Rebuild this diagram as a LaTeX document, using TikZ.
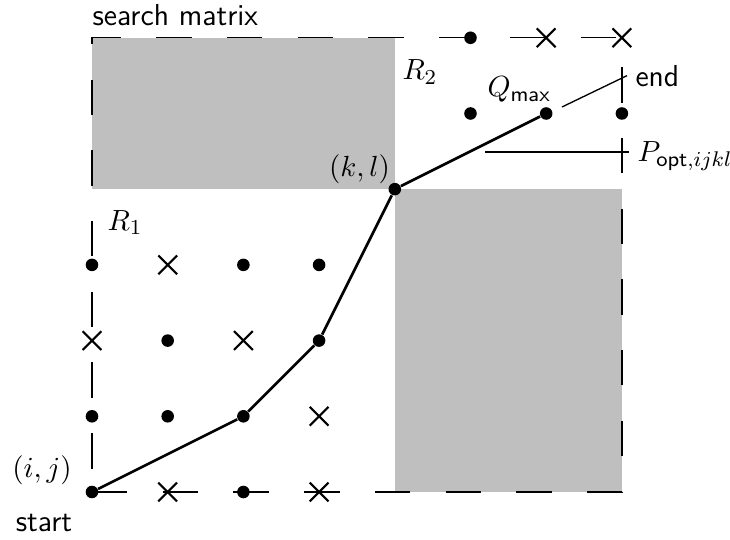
\documentclass[tikz,border=0pt]{standalone}
\usepackage{amssymb}
\usepackage{amsmath}
\usepackage{tikz}
\usepackage{xcolor}
\usetikzlibrary{shapes.misc, positioning}

\begin{document}
\begin{tikzpicture}[x=1cm,y=1cm,font=\fontsize{11.4}{13.7}\selectfont,
  dotp/.style={circle,fill,inner sep=0pt,minimum size=0.166cm},
  crossp/.style={cross out,draw,line width=0.8pt,inner sep=0pt,minimum size=0.22cm},
  lbl/.style={inner sep=0pt,anchor=base west}]
\useasboundingbox (-1.215,-0.621) rectangle (8.428,6.499);

% blocked regions
\fill[gray!50] (0,4) rectangle (4,6);
\fill[gray!50] (4,0) rectangle (7,4);
\draw[line width=0.5pt,dash pattern=on 13.29pt off 13.29pt] (0,0) -- (7,0) -- (7,6) -- (0,6) -- cycle;

% grid points
\node[dotp] (a00) at (0,0) {};
\node[crossp] (a10) at (1,0) {};
\node[dotp] (a20) at (2,0) {};
\node[crossp] (a30) at (3,0) {};
\node[dotp] (a01) at (0,1) {};
\node[dotp] (a11) at (1,1) {};
\node[dotp] (a21) at (2,1) {};
\node[crossp] (a31) at (3,1) {};
\node[crossp] (a02) at (0,2) {};
\node[dotp] (a12) at (1,2) {};
\node[crossp] (a22) at (2,2) {};
\node[dotp] (a32) at (3,2) {};
\node[dotp] (a03) at (0,3) {};
\node[crossp] (a13) at (1,3) {};
\node[dotp] (a23) at (2,3) {};
\node[dotp] (a33) at (3,3) {};
\node[dotp] (a44) at (4,4) {};
\node[dotp] (a55) at (5,5) {};
\node[dotp] (a65) at (6,5) {};
\node[dotp] (a75) at (7,5) {};
\node[dotp] (a56) at (5,6) {};
\node[crossp] (a66) at (6,6) {};
\node[crossp] (a76) at (7,6) {};

% optimal path
\draw[line width=1pt] (a00) -- (a21) -- (a32) -- (a44) -- (a65);

% labels
\node[lbl] (smat) at (0,6.156) {\sffamily search matrix};
\node[anchor=base] (start) at (-0.634,-0.528) {\sffamily start};
\node (ij) at (-0.66,0.29) {$(i,j)$};
\node (kl) at (3.534,4.267) {$(k,l)$};
\node[lbl] (r1) at (0.2,3.46) {$R_1$};
\node[lbl] (r2) at (4.095,5.443) {$R_2$};
\node[lbl] (qmax) at (5.218,5.218) {$Q_{\textsf{max}}$};
\node[lbl] (endl) at (7.173,5.363) {\sffamily end};
\node[lbl] (popt) at (7.2,4.36) {$P_{\textsf{opt},ijkl}$};

\coordinate (qend) at (6.209,5.086);
\coordinate (pfrom) at (5.19,4.49);
\draw[line width=0.5pt] (qend) -- ([xshift=-3pt]endl.west);
\draw[line width=0.5pt] (pfrom) -- ([xshift=-3pt]pfrom -| popt.west);
\end{tikzpicture}
\end{document}
